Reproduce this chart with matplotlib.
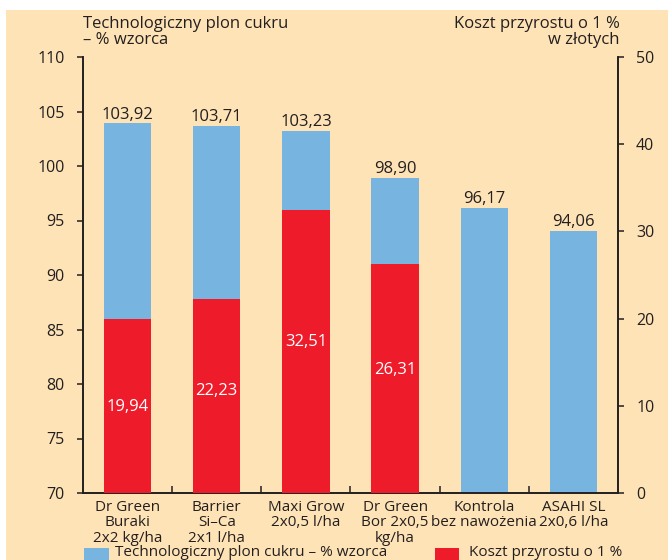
import matplotlib
matplotlib.use("Agg")
import matplotlib.pyplot as plt
from matplotlib.patches import Rectangle
import numpy as np

plt.rcParams['font.family'] = ['Open Sans', 'DejaVu Sans']

categories = ["Dr Green\nBuraki\n2x2 kg/ha", "Barrier\nSi–Ca\n2x1 l/ha", "Maxi Grow\n2x0,5 l/ha",
              "Dr Green\nBor 2x0,5\nkg/ha", "Kontrola\nbez nawożenia", "ASAHI SL\n2x0,6 l/ha"]
yield_pct = [103.92, 103.71, 103.23, 98.90, 96.17, 94.06]
cost = [19.94, 22.23, 32.51, 26.31]
left_ticks = [70, 75, 80, 85, 90, 95, 100, 105, 110]
right_ticks = [0, 10, 20, 30, 40, 50]
series_names = ["Technologiczny plon cukru – % wzorca", "Koszt przyrostu o 1 %"]

BG = "#FEE3B6"
BLUE = "#78B4E0"
RED = "#EE1C2B"
TXT = "#231F20"

W, H = 668, 560
fig = plt.figure(figsize=(W/100, H/100), dpi=100, facecolor="white")
fig.patches.append(Rectangle((6/W, 0), 1, 1 - 10/H, transform=fig.transFigure,
                             facecolor=BG, edgecolor="none", zorder=-10))

ax = fig.add_axes([83/W, 1 - 493/H, 535/W, 436/H])
ax.set_facecolor("none")
ax2 = ax.twinx()
ax2.set_facecolor("none")

x = np.arange(len(categories))
bw = 0.53
ax.bar(x, np.array(yield_pct) - 70, bottom=70, width=bw, color=BLUE, zorder=2)
for xi, v in zip(x, yield_pct):
    ax.annotate(f"{v:.2f}".replace(".", ","), (xi, v), xytext=(0, 0.5), textcoords="offset points",
                ha="center", va="bottom", fontsize=12, color=TXT)

xr = x[:len(cost)]
ax2.bar(xr, cost, width=bw, color=RED, zorder=3)
label_offsets = [-1, 4, 7, 6]
for xi, v, off in zip(xr, cost, label_offsets):
    ax2.annotate(f"{v:.2f}".replace(".", ","), (xi, v / 2), xytext=(0, off), textcoords="offset points",
                 ha="center", va="center", fontsize=12, color="white")

ax.set_xlim(-0.5, len(categories) - 0.5)
ax.set_ylim(70, 110)
ax2.set_ylim(0, 50)
ax.set_yticks(left_ticks)
ax2.set_yticks(right_ticks)
ax.set_xticks(x)
ax.set_xticklabels(categories, fontsize=11, color=TXT, linespacing=1.03)
ax.set_xticks(np.arange(0.5, len(categories) - 1, 1), minor=True)
ax.tick_params(axis="x", which="major", length=0, pad=5)
ax.tick_params(axis="x", which="minor", direction="in", length=5, width=1.1, color=TXT)
ax.tick_params(axis="y", direction="out", length=4, width=1.1, color=TXT, labelsize=11.5, labelcolor=TXT, pad=9)
ax2.tick_params(axis="y", direction="out", length=4, width=1.1, color=TXT, labelsize=11.5, labelcolor=TXT, pad=9)

for a in (ax, ax2):
    a.spines["top"].set_visible(False)
    for s in ("left", "right", "bottom"):
        a.spines[s].set_linewidth(1.2)
        a.spines[s].set_color(TXT)

fig.text(83/W, 1 - 16/H, "Technologiczny plon cukru\n– % wzorca", ha="left", va="top",
         fontsize=12, color=TXT, linespacing=1.03)
fig.text(620/W, 1 - 16/H, "Koszt przyrostu o 1 %\nw złotych", ha="right", va="top",
         fontsize=12, color=TXT, linespacing=1.03, multialignment="right")

# legend (cut off at bottom like the reference)
fig.patches.append(Rectangle((84/W, 1 - 570/H), 25/W, 22/H, transform=fig.transFigure,
                             facecolor=BLUE, edgecolor="none"))
fig.text(115/W, 1 - 545/H, series_names[0], ha="left", va="top", fontsize=11, color=TXT)
fig.patches.append(Rectangle((435/W, 1 - 570/H), 24/W, 22/H, transform=fig.transFigure,
                             facecolor=RED, edgecolor="none"))
fig.text(469/W, 1 - 545/H, series_names[1], ha="left", va="top", fontsize=11, color=TXT)

fig.savefig("out.png", dpi=100, facecolor=fig.get_facecolor())
